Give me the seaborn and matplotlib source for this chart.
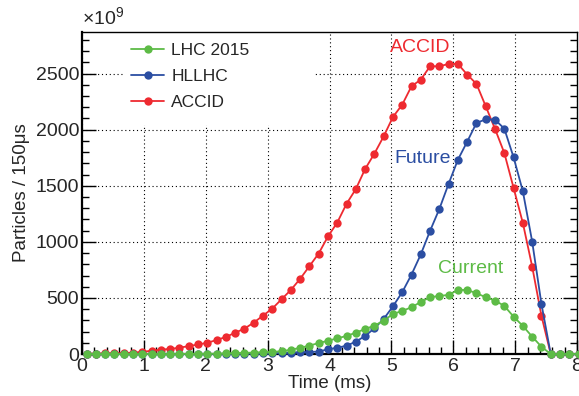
import numpy as np
import pandas as pd
import matplotlib
matplotlib.use('Agg')
import matplotlib.pyplot as plt
from matplotlib.patches import Rectangle
from matplotlib.ticker import MultipleLocator
import seaborn as sns

# bin centres (ms), 150 us bins
time_ms = [0.075, 0.225, 0.375, 0.525, 0.675, 0.825, 0.975, 1.125, 1.275, 1.425,
           1.575, 1.725, 1.875, 2.025, 2.175, 2.325, 2.475, 2.625, 2.775, 2.925,
           3.075, 3.225, 3.375, 3.525, 3.675, 3.825, 3.975, 4.125, 4.275, 4.425,
           4.575, 4.725, 4.875, 5.025, 5.175, 5.325, 5.475, 5.625, 5.775, 5.925,
           6.075, 6.225, 6.375, 6.525, 6.675, 6.825, 6.975, 7.125, 7.275, 7.425,
           7.575, 7.725, 7.875, 8.025]

# particles per bin, units of 1e9
lhc2015 = [0, 0, 0, 0, 0, 0, 0, 0, 0, 0,
           1, 1, 2, 2, 3, 5, 8, 10, 13, 16,
           19, 25, 38, 55, 75, 98, 118, 140, 161, 190,
           223, 253, 297, 357, 384, 417, 464, 506, 518, 527,
           571, 571, 542, 506, 476, 429, 333, 250, 155, 65,
           0, 0, 0, 0]
hllhc = [0, 0, 0, 0, 0, 0, 0, 0, 0, 0,
         0, 0, 0, 0, 0, 1, 2, 3, 4, 5,
         7, 9, 12, 15, 18, 22, 42, 56, 74, 110,
         161, 229, 312, 425, 551, 708, 888, 1098, 1293, 1518,
         1732, 1893, 2060, 2092, 2089, 2009, 1753, 1449, 1003, 446,
         0, 0, 0, 0]
accid = [3, 4, 5, 7, 9, 12, 20, 29, 40, 45,
         57, 70, 85, 100, 125, 152, 190, 226, 280, 342,
         405, 488, 571, 670, 783, 896, 1048, 1172, 1339, 1470,
         1649, 1786, 1940, 2113, 2223, 2387, 2446, 2565, 2565, 2586,
         2586, 2491, 2408, 2208, 2006, 1792, 1480, 1167, 780, 340,
         0, 0, 0, 0]

labels = ['LHC 2015', 'HLLHC', 'ACCID']
colors = {'LHC 2015': '#5dbb46', 'HLLHC': '#2b4ea2', 'ACCID': '#ee2a30'}

df = pd.DataFrame({
    'time': time_ms * 3,
    'particles': lhc2015 + hllhc + accid,
    'beam': ['LHC 2015'] * len(time_ms) + ['HLLHC'] * len(time_ms) + ['ACCID'] * len(time_ms),
})

sns.set_theme(style='ticks')
plt.rcParams['font.family'] = ['Liberation Sans', 'DejaVu Sans']
plt.rcParams['mathtext.fontset'] = 'custom'
plt.rcParams['mathtext.rm'] = 'Liberation Sans'
plt.rcParams['mathtext.it'] = 'Liberation Sans:italic'

fig = plt.figure(figsize=(5.79, 3.96), dpi=100)
ax = fig.add_axes([0.1416, 0.106, 0.855, 0.813])

# draw red first, green last (green sits on top near zero)
handles = {}
for name in ['ACCID', 'HLLHC', 'LHC 2015']:
    sub = df[df['beam'] == name]
    sns.lineplot(data=sub, x='time', y='particles', ax=ax, color=colors[name],
                 marker='o', markersize=6, markeredgewidth=0, linewidth=1.3,
                 label=name, clip_on=False, zorder=3)
    handles[name] = ax.get_lines()[-1]

ax.set_xlim(0, 8)
ax.set_ylim(0, 2870)
ax.xaxis.set_major_locator(MultipleLocator(1))
ax.xaxis.set_minor_locator(MultipleLocator(0.2))
ax.yaxis.set_major_locator(MultipleLocator(500))
ax.yaxis.set_minor_locator(MultipleLocator(100))

ax.set_axisbelow(True)
ax.grid(True, which='major', color='black', linestyle=(0, (1, 2.5)), linewidth=0.8)

ax.tick_params(which='both', direction='in', right=True, top=False, labelsize=14, color='black')
ax.tick_params(which='major', length=10, width=1)
ax.tick_params(which='minor', length=5, width=1)
ax.tick_params(axis='y', pad=2)
ax.tick_params(axis='x', pad=3)

for side, lw in [('left', 1.6), ('bottom', 1.6), ('top', 1.0), ('right', 1.0)]:
    ax.spines[side].set_linewidth(lw)
    ax.spines[side].set_color('black')

# white box behind legend hides the grid
ax.add_patch(Rectangle((0.087, 0.711), 0.383, 0.289, transform=ax.transAxes,
                       facecolor='white', edgecolor='none', zorder=1))

ax.legend([handles[n] for n in labels], labels, loc='upper left',
          bbox_to_anchor=(0.1, 0.965), frameon=False, fontsize=12.5,
          borderpad=0, borderaxespad=0, handlelength=1.85, handletextpad=0.45,
          labelspacing=0.6)

ax.text(5.47, 2733, 'ACCID', color=colors['ACCID'], fontsize=14, ha='center', va='center')
ax.text(5.5, 1745, 'Future', color=colors['HLLHC'], fontsize=14, ha='center', va='center')
ax.text(6.28, 766, 'Current', color=colors['LHC 2015'], fontsize=14, ha='center', va='center')

ax.text(0, 1.012, r'$\times10^{9}$', transform=ax.transAxes, fontsize=14, ha='left', va='bottom')

ax.set_xlabel('Time (ms)', fontsize=13.5, labelpad=0)
ax.set_ylabel('Particles / 150μs', fontsize=13.5, labelpad=4)

fig.savefig('out.png', dpi=100)
